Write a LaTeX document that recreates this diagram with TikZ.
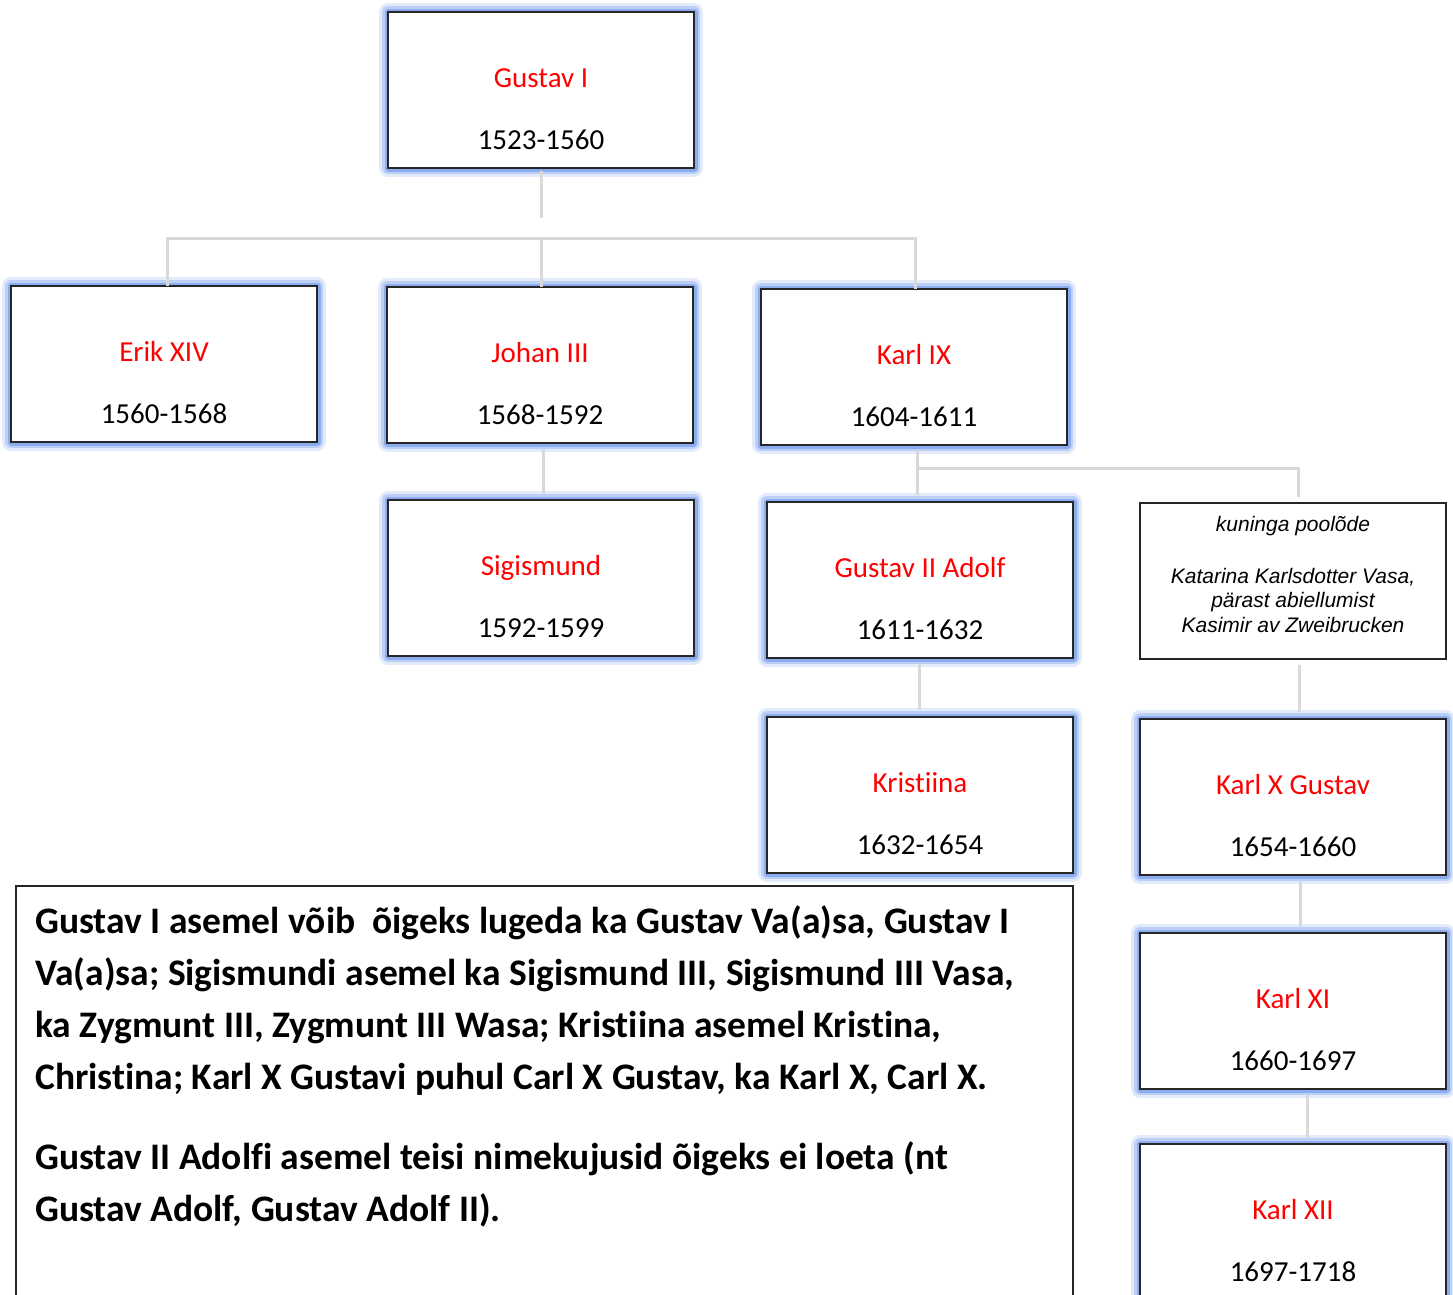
\documentclass[tikz,border=0pt]{standalone}
\usepackage{fontspec}
\setmainfont{Carlito}[Ligatures=CommonOff]
\newfontfamily\arialf{Liberation Sans}
\definecolor{glowc}{RGB}{100,145,235}
\definecolor{connc}{RGB}{217,217,217}
\definecolor{namec}{RGB}{255,0,0}
\tikzset{
  kbox/.style={rectangle, minimum width=306pt, minimum height=156pt, inner sep=0pt, outer sep=0pt,
    fill=white, draw=black!85, line width=1.5pt,
    preaction={draw=glowc, line width=18pt, draw opacity=0.18, line join=round},
    preaction={draw=glowc, line width=12pt, draw opacity=0.30, line join=round},
    preaction={draw=glowc, line width=7pt, draw opacity=0.55, line join=round}},
  pbox/.style={rectangle, minimum width=306pt, minimum height=156pt, inner sep=0pt, outer sep=0pt,
    fill=white, draw=black!85, line width=1.2pt},
  nm/.style={text=namec, font=\fontsize{29}{34}\selectfont, anchor=base, inner sep=0pt},
  yr/.style={text=black, font=\fontsize{29}{34}\selectfont, anchor=base, inner sep=0pt},
  conn/.style={draw=connc, line width=3pt},
}
\newcommand{\king}[5]{%
  \node[kbox] (#1) at (#2) {};
  \node[nm] (#1-n) at ([yshift=-75pt]#1.north) {#3};
  \node[yr] (#1-y) at ([yshift=-137pt]#1.north) {#4};
}
\begin{document}
\begin{tikzpicture}[x=1pt,y=-1pt]
\useasboundingbox (0,0) rectangle (1453,1294);
\clip (0,0) rectangle (1453,1294);
\fill[white] (0,0) rectangle (1453,1294);

% connectors
\coordinate (g1end) at (541,218);
\coordinate (hbar) at (541,238);
\coordinate (k9bar) at (917,468);

\king{g1}{541,90}{Gustav I}{1523-1560}{}
\king{erik}{164,364}{Erik XIV}{1560-1568}{}
\king{johan}{540,365}{Johan III}{1568-1592}{}
\king{karl9}{914,367}{Karl IX}{1604-1611}{}
\king{sig}{541,578}{Sigismund}{1592-1599}{}
\king{ga2}{920,580}{Gustav II Adolf}{1611-1632}{}
\king{kris}{920,795}{Kristiina}{1632-1654}{}
\king{k10}{1293,797}{Karl X Gustav}{1654-1660}{}
\king{k11}{1293,1011}{Karl XI}{1660-1697}{}
\king{k12}{1293,1222}{Karl XII}{1697-1718}{}

\node[pbox] (ital) at (1293,581) {};
\node[font=\arialf\itshape\fontsize{21}{24.5}\selectfont, align=center, anchor=north, inner sep=0pt] (italtext)
  at ([yshift=-13pt]ital.north) {kuninga poolõde\\[27.5pt]Katarina Karlsdotter Vasa,\\pärast abiellumist\\Kasimir av Zweibrucken};

% tree connectors
\draw[conn, shorten <=3pt] (g1.south) -- (g1end);
\draw[conn] ([xshift=3pt]erik.north) |- (hbar) -| ([xshift=1pt]karl9.north);
\draw[conn] (johan.north -| hbar) -- (hbar);
\draw[conn, shorten <=6pt, shorten >=6pt] ([xshift=3pt]johan.south) -- ([xshift=3pt]johan.south |- sig.north);
\draw[conn, shorten <=5pt] (karl9.south -| k9bar) -- (k9bar);
\draw[conn, shorten >=7pt] (k9bar) -- (k9bar |- ga2.north);
\draw[conn, shorten >=6pt] (k9bar) -| ([xshift=5pt]ital.north);
\draw[conn, shorten <=6pt, shorten >=7pt] ([xshift=-1pt]ga2.south) -- ([xshift=-1pt]ga2.south |- kris.north);
\draw[conn, shorten <=6pt, shorten >=7pt] ([xshift=6pt]ital.south) -- ([xshift=6pt]ital.south |- k10.north);
\draw[conn, shorten <=6pt, shorten >=6pt] ([xshift=7pt]k10.south) -- ([xshift=7pt]k10.south |- k11.north);
\draw[conn, shorten <=6pt, shorten >=6pt] ([xshift=14pt]k11.south) -- ([xshift=14pt]k11.south |- k12.north);

% note box
\node[rectangle, draw=black!85, line width=1.5pt, fill=white, minimum width=1057pt, minimum height=430pt,
  anchor=north west, inner sep=0pt] (note) at (15,885) {};
\node[font=\bfseries\fontsize{37.5}{52}\selectfont, align=left, anchor=north west, inner sep=0pt] (notetext)
  at (35,905) {Gustav I asemel võib\ \ õigeks lugeda ka Gustav Va(a)sa, Gustav I\\
Va(a)sa; Sigismundi asemel ka Sigismund III, Sigismund III Vasa,\\
ka Zygmunt III, Zygmunt III Wasa; Kristiina asemel Kristina,\\
Christina; Karl X Gustavi puhul Carl X Gustav, ka Karl X, Carl X.\\[28pt]
Gustav II Adolfi asemel teisi nimekujusid õigeks ei loeta (nt\\
Gustav Adolf, Gustav Adolf II).};
\end{tikzpicture}
\end{document}
